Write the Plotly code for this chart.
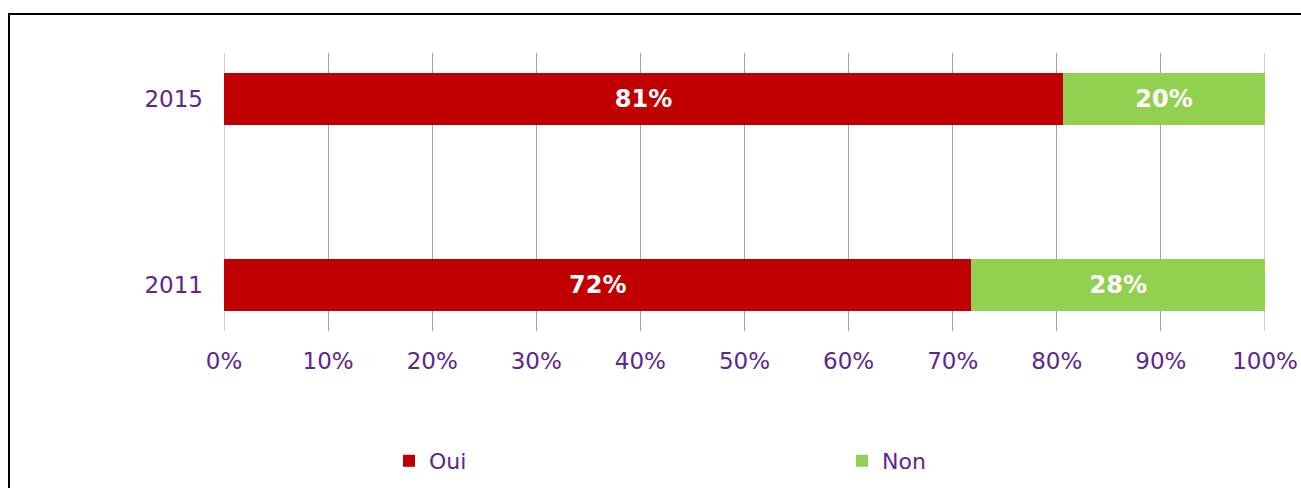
import plotly.graph_objects as go

years = ["2011", "2015"]
oui = [71.8, 80.6]
non = [28.2, 19.4]
oui_labels = ["72%", "81%"]
non_labels = ["28%", "20%"]
x_ticks = [0, 10, 20, 30, 40, 50, 60, 70, 80, 90, 100]
x_tick_text = [f"{v}%" for v in x_ticks]

PURPLE = "#62258C"
FONT = "DejaVu Sans"
GRID = "#A0A0A0"

W, H = 1301, 488
L, R, T, B = 224, 36, 53, 157
pw = W - L - R
ph = H - T - B


def px_x(x):  # page x -> paper x
    return (x - L) / pw


def px_y(y):  # page y -> paper y
    return (H - B - y) / ph


fig = go.Figure()
fig.add_trace(go.Bar(
    y=years, x=oui, name="Oui", orientation="h", legend="legend",
    marker=dict(color="#C00000", line=dict(width=0)),
    text=oui_labels, textposition="inside", insidetextanchor="middle",
    textfont=dict(family=FONT, size=24, color="white", weight="bold"),
    width=0.28,
))
fig.add_trace(go.Bar(
    y=years, x=non, name="Non", orientation="h", legend="legend2",
    marker=dict(color="#92D050", line=dict(width=0)),
    text=non_labels, textposition="inside", insidetextanchor="middle",
    textfont=dict(family=FONT, size=24, color="white", weight="bold"),
    width=0.28,
))

leg_common = dict(
    orientation="h", yanchor="middle", xanchor="left",
    itemwidth=30, font=dict(family=FONT, size=22, color=PURPLE),
    bgcolor="rgba(0,0,0,0)", borderwidth=0,
)

fig.update_layout(
    barmode="stack",
    width=W, height=H,
    margin=dict(l=L, r=R, t=T, b=B, pad=0, autoexpand=False),
    paper_bgcolor="white", plot_bgcolor="white",
    font=dict(family=FONT, size=23, color=PURPLE),
    showlegend=True,
    legend=dict(x=px_x(389), y=px_y(461), **leg_common),
    legend2=dict(x=px_x(842), y=px_y(461), **leg_common),
    xaxis=dict(
        range=[0, 100], tickvals=x_ticks, ticktext=x_tick_text,
        showgrid=True, gridcolor=GRID, gridwidth=1,
        zeroline=False, showline=False, ticks="", automargin=False,
        ticklabelstandoff=14, fixedrange=True,
    ),
    yaxis=dict(
        type="category", range=[-0.247, 1.247],
        showgrid=False, zeroline=False, showline=False, ticks="",
        automargin=False, ticklabelstandoff=20, fixedrange=True,
    ),
    shapes=[
        dict(type="line", xref="x", yref="paper", x0=0, x1=0, y0=0, y1=1,
             line=dict(color=GRID, width=1), layer="below"),
        dict(type="line", xref="x", yref="paper", x0=100, x1=100, y0=0, y1=1,
             line=dict(color=GRID, width=1), layer="below"),
        dict(type="rect", xref="paper", yref="paper",
             x0=px_x(9), x1=px_x(1330),
             y0=px_y(540), y1=px_y(14),
             line=dict(color="black", width=2), fillcolor="rgba(0,0,0,0)",
             layer="above"),
    ],
)

fig.write_html(
    "out.html",
    config={"displayModeBar": False, "staticPlot": True},
    post_script="document.body.style.margin='0';document.body.style.overflow='hidden';",
)
